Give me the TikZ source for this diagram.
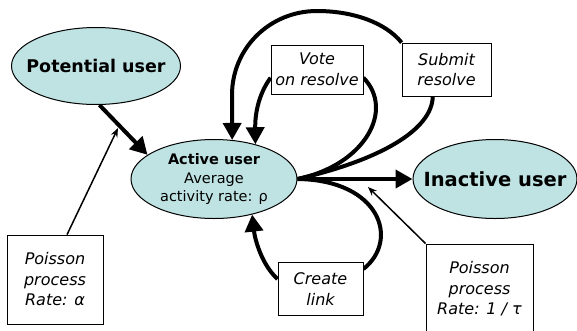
\documentclass[tikz,border=0pt]{standalone}
\usepackage{fontspec}
\setmainfont{DejaVu Sans}
\usetikzlibrary{shapes.geometric,arrows.meta,backgrounds}
\definecolor{usercyan}{RGB}{191,227,227}

\begin{document}
\begin{tikzpicture}[x=1pt,y=-1pt,
  user/.style={ellipse,draw,fill=usercyan,line width=1pt,inner sep=0pt,
    minimum width=166pt,minimum height=79pt,align=center},
  action/.style={rectangle,draw,fill=white,line width=0.8pt,inner sep=0pt,
    align=center,font=\itshape\fontsize{16}{20.5}\selectfont},
  flow/.style={line width=4pt,-{Triangle[length=17pt,width=18pt]}},
  cycleline/.style={line width=4pt},
  rate/.style={line width=1.5pt,-{Stealth[length=9pt,width=7pt]}}]

\useasboundingbox (0,0) rectangle (577,330);

% usuarios
\node[user,minimum width=169pt,minimum height=77pt,inner xsep=-15pt,
  font=\bfseries\fontsize{17.5}{21}\selectfont] (potential) at (96,66) {Potential user};
\node[user,font=\fontsize{14.5}{18.5}\selectfont]
  (active) at (214,179) {\textbf{Active user}\\Average\\activity rate: ρ};
\node[user,minimum width=164pt,inner xsep=-15pt,
  font=\bfseries\fontsize{19.5}{23}\selectfont] (inactive) at (495,179) {Inactive user};

% acoes
\node[action,minimum width=92pt,minimum height=49pt] (vote) at (317,69.5) {Vote\\on resolve};
\node[action,minimum width=89pt,minimum height=53pt] (submit) at (446.5,69.5) {Submit\\resolve};
\node[action,minimum width=85pt,minimum height=53pt] (create) at (320.5,289) {Create\\link};

% processos de Poisson
\node[action,minimum width=96pt,minimum height=89pt] (alpha) at (55,279.5) {Poisson\\process\\Rate: α};
\node[action,minimum width=107pt,minimum height=90pt] (tau) at (479.5,289) {Poisson\\process\\Rate: 1 / τ};

\coordinate (alphatip) at (118,128);
\coordinate (tautip) at (368,187);

\begin{scope}[on background layer]
% transicoes
\draw[flow] (potential.-85) -- (active.160);
\draw[flow] (active.east) -- (inactive.west);

% submit
\draw[cycleline] (active.east) .. controls (380,160) and (432,130) .. (submit.243);
\draw[flow] (submit.north west) .. controls (385,22) and (352,11) .. (317,11)
  .. controls (270,11) and (232,48) .. (232,95) -- (active.65);

% vote
\draw[cycleline] (active.east) .. controls (365,165) and (395,110) .. (vote.-10);
\draw[flow] (vote.190) .. controls (258,95) and (255,115) .. (active.40);

% create
\draw[cycleline] (active.east) .. controls (380,180) and (400,240) .. (create.25);
\draw[flow] (create.167) .. controls (262,265) and (255,240) .. (active.-43);

% taxas
\draw[rate] (alpha.75) -- (alphatip);
\draw[rate] (tau.north west) -- (tautip);
\end{scope}

\end{tikzpicture}
\end{document}
